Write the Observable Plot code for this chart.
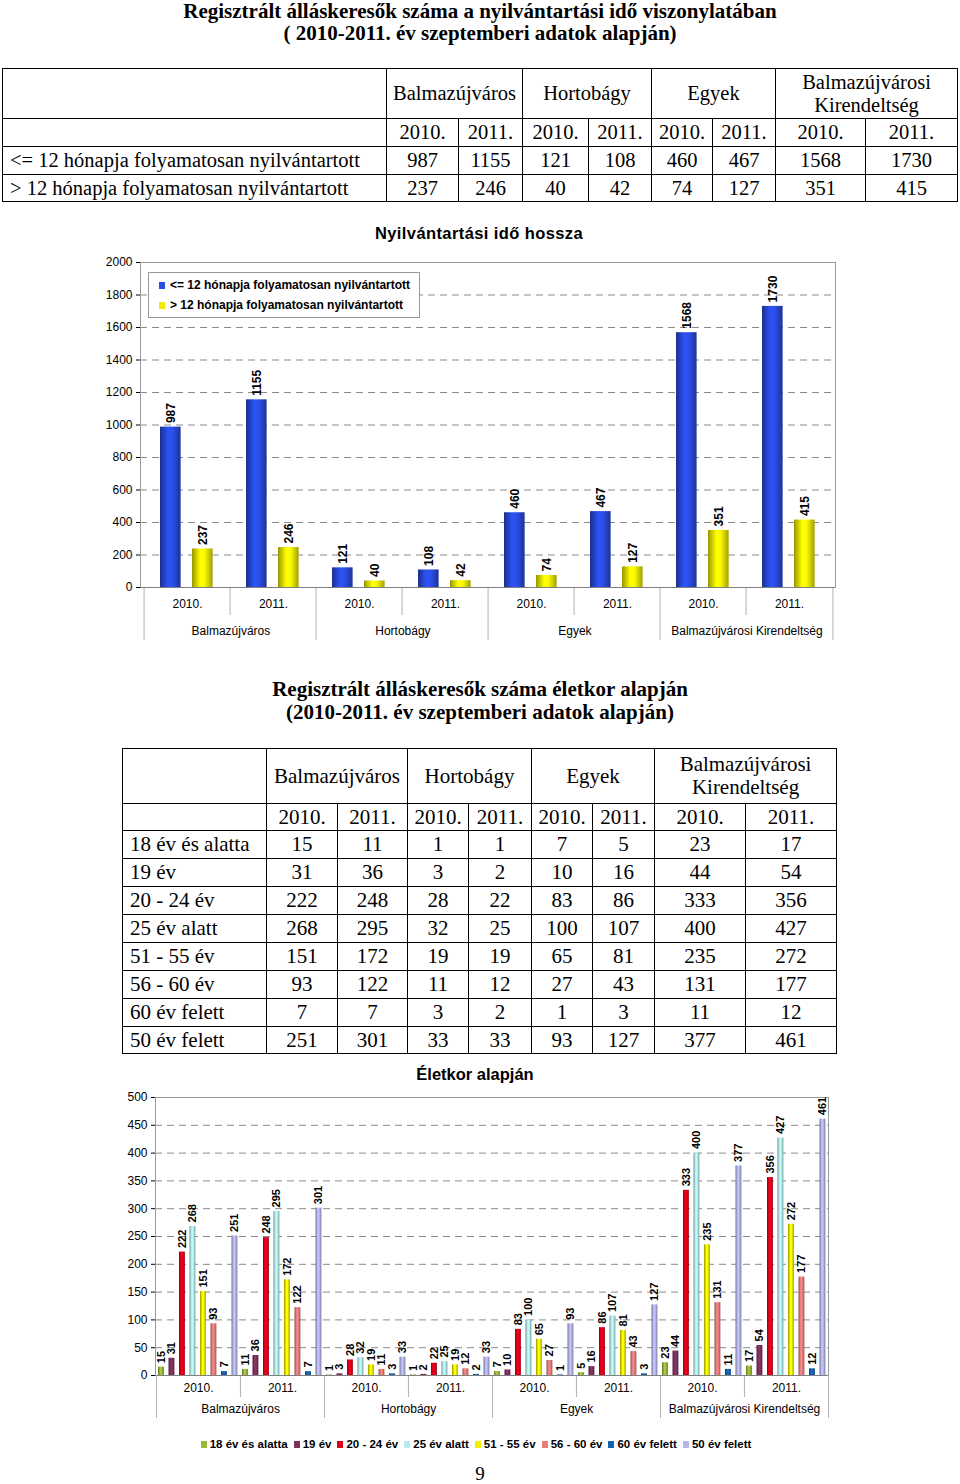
<!DOCTYPE html>
<html><head><meta charset="utf-8">
<script src="https://cdn.jsdelivr.net/npm/d3@7"></script>
<script src="https://cdn.jsdelivr.net/npm/@observablehq/plot@0.6"></script>
<style>
body{margin:0;background:#fff;}
#page{position:relative;width:960px;height:1484px;overflow:hidden;font-family:"Liberation Serif","Times New Roman",serif;color:#000;}
.title{position:absolute;left:0;width:960px;text-align:center;font-weight:bold;font-size:21px;line-height:23px;}
table.dt{position:absolute;border-collapse:collapse;table-layout:fixed;font-family:"Liberation Serif","Times New Roman",serif;font-size:20.5px;}
table.dt td{border:1.5px solid #000;text-align:center;padding:0;line-height:23px;overflow:hidden;white-space:nowrap;}
table.dt td.lab{text-align:left;padding-left:7px;}
.ctitle{position:absolute;text-align:center;font-family:"Liberation Sans",Arial,sans-serif;font-weight:bold;font-size:16.5px;}
.chart{position:absolute;left:0;}
.leg1{position:absolute;left:148px;top:272px;width:270px;height:44px;border:1px solid #999;background:#fff;font-family:"Liberation Sans",Arial,sans-serif;font-weight:bold;font-size:12px;}
.leg1 div{position:absolute;left:10px;white-space:nowrap;}
.mk{display:inline-block;width:6px;height:7px;margin-right:5px;vertical-align:0px;}
.leg2{position:absolute;left:-4px;width:960px;top:1438px;text-align:center;font-family:"Liberation Sans",Arial,sans-serif;font-weight:bold;font-size:11.5px;white-space:nowrap;}
.leg2 span.it{margin:0 3px;}
.pnum{position:absolute;left:0;width:960px;top:1463px;text-align:center;font-size:19px;}
</style></head>
<body>
<svg width="0" height="0" style="position:absolute"><defs id="defs"></defs></svg>
<div id="page">
  <div class="title" style="top:0px;line-height:22px">Regisztrált álláskeresők száma a nyilvántartási idő viszonylatában<br>( 2010-2011. év szeptemberi adatok alapján)</div>
  <div id="t1"></div>
  <div class="ctitle" style="top:224px;left:0;width:958px;letter-spacing:0.4px">Nyilvántartási idő hossza</div>
  <div class="chart" id="c1" style="top:250px"></div>
  <div class="leg1" id="leg1"></div>
  <div class="title" style="top:678px">Regisztrált álláskeresők száma életkor alapján<br>(2010-2011. év szeptemberi adatok alapján)</div>
  <div id="t2"></div>
  <div class="ctitle" style="top:1065px;left:0;width:950px">Életkor alapján</div>
  <div class="chart" id="c2" style="top:1085px"></div>
  <div class="leg2" id="leg2"></div>
  <div class="pnum">9</div>
</div>
<script>
// ---------- DATA ----------
const cities = ["Balmazújváros", "Hortobágy", "Egyek", "Balmazújvárosi Kirendeltség"];
const cityHeader = ["Balmazújváros", "Hortobágy", "Egyek", "Balmazújvárosi<br>Kirendeltség"];
const years = ["2010.", "2011."];

// chart 1 (order: city x year)
const durSeries = ["<= 12 hónapja folyamatosan nyilvántartott", ">  12 hónapja folyamatosan nyilvántartott"];
const durShort = [987, 1155, 121, 108, 460, 467, 1568, 1730];
const durLong = [237, 246, 40, 42, 74, 127, 351, 415];
const durColors = ["#2a4ce0", "#eeee00"];

// chart 2
const ageSeries = ["18 év és alatta", "19 év", "20 - 24 év", "25 év alatt", "51 - 55 év", "56 - 60 év", "60 év felett", "50 év felett"];
const age18 = [15, 11, 1, 1, 7, 5, 23, 17];
const age19 = [31, 36, 3, 2, 10, 16, 44, 54];
const age2024 = [222, 248, 28, 22, 83, 86, 333, 356];
const age25 = [268, 295, 32, 25, 100, 107, 400, 427];
const age5155 = [151, 172, 19, 19, 65, 81, 235, 272];
const age5660 = [93, 122, 11, 12, 27, 43, 131, 177];
const age60 = [7, 7, 3, 2, 1, 3, 11, 12];
const age50 = [251, 301, 33, 33, 93, 127, 377, 461];
const ageValues = [age18, age19, age2024, age25, age5155, age5660, age60, age50];
const ageColors = ["#9ab83a", "#80305e", "#e0001a", "#b6ecec", "#f0f000", "#e87c7c", "#1462b0", "#b6b6ea"];

const yTicks1 = [0, 200, 400, 600, 800, 1000, 1200, 1400, 1600, 1800, 2000];
const yTicks2 = [0, 50, 100, 150, 200, 250, 300, 350, 400, 450, 500];

// ---------- gradients ----------
const defs = d3.select("#defs");
function grad(id, c) {
  const base = d3.color(c);
  const g = defs.append("linearGradient").attr("id", id).attr("x1", 0).attr("x2", 1).attr("y1", 0).attr("y2", 0);
  g.append("stop").attr("offset", "0%").attr("stop-color", base.darker(1.3).formatHex());
  g.append("stop").attr("offset", "40%").attr("stop-color", base.brighter(0.25).formatHex());
  g.append("stop").attr("offset", "60%").attr("stop-color", base.brighter(0.15).formatHex());
  g.append("stop").attr("offset", "100%").attr("stop-color", base.darker(1.1).formatHex());
  return `url(#${id})`;
}
const durFills = durColors.map((c, i) => grad("gd" + i, c));
const ageFills = ageColors.map((c, i) => grad("ga" + i, c));

// ---------- tables ----------
function buildTable(el, left, top, widths, heights, rowLabels, rowsData, fs) {
  let h = `<table class="dt" style="left:${left}px;top:${top}px;width:${d3.sum(widths)}px;font-size:${fs}px"><colgroup>`;
  widths.forEach(w => h += `<col style="width:${w}px">`);
  h += `</colgroup><tr style="height:${heights[0]}px"><td></td>`;
  cityHeader.forEach(c => h += `<td colspan="2">${c}</td>`);
  h += `</tr><tr style="height:${heights[1]}px"><td></td>`;
  cities.forEach(() => years.forEach(y => h += `<td>${y}</td>`));
  h += `</tr>`;
  rowLabels.forEach((lab, r) => {
    h += `<tr style="height:${heights[2 + r]}px"><td class="lab">${lab.replace(/</g, "&lt;").replace(/>/g, "&gt;")}</td>`;
    rowsData[r].forEach(v => h += `<td>${v}</td>`);
    h += `</tr>`;
  });
  h += `</table>`;
  document.getElementById(el).innerHTML = h;
}
buildTable("t1", 2, 68, [384, 72, 64, 66, 63, 61, 63, 90, 92], [50, 28, 28, 27],
  ["<= 12 hónapja folyamatosan nyilvántartott", ">  12 hónapja folyamatosan nyilvántartott"], [durShort, durLong], 20.5);
buildTable("t2", 122, 748, [144, 71, 70, 61, 63, 61, 62, 91, 91], [55, 27, 28, 28, 28, 28, 28, 28, 28, 27],
  ageSeries, ageValues, 21);

// ---------- chart builder ----------
const keys = [];
cities.forEach(c => years.forEach(y => keys.push(c + "|" + y)));

function groupedChart({values, fills, left, right, top, plotH, bottom, yMax, ticks, barOff, barW, fontSize, sepCity, sepYear, dyYear, dyCity}) {
  const W = (960 - left - right) / keys.length;
  const marks = [
    Plot.ruleY(ticks.slice(1, -1), {stroke: "#8a8a8a", strokeDasharray: "7,5", strokeWidth: 1}),
    Plot.frame({stroke: "#9a9a9a"})
  ];
  const rows = keys.map((k, i) => ({k, city: k.split("|")[0], year: k.split("|")[1], i}));
  values.forEach((vals, s) => {
    const data = rows.map(r => ({...r, v: vals[r.i]}));
    const off = barOff[s];
    marks.push(Plot.barY(data, {x: "k", y: "v", fill: fills[s], insetLeft: off, insetRight: W - off - barW}));
    marks.push(Plot.text(data, {x: "k", y: "v", text: d => String(d.v), rotate: -90, textAnchor: "start",
      dx: off + barW / 2 - W / 2, dy: -4, fontWeight: "bold", fontSize, fill: "#000"}));
  });
  const y2010 = rows.filter(r => r.year === years[0]);
  const y2011 = rows.filter(r => r.year === years[1]);
  marks.push(Plot.ruleX(y2010, {x: "k", dx: -W / 2, y1: 0, y2: 0, insetBottom: -sepCity, stroke: "#b0b0b0"}));
  marks.push(Plot.ruleX(rows.slice(-1), {x: "k", dx: W / 2, y1: 0, y2: 0, insetBottom: -sepCity, stroke: "#b0b0b0"}));
  marks.push(Plot.ruleX(y2011, {x: "k", dx: -W / 2, y1: 0, y2: 0, insetBottom: -sepYear, stroke: "#b0b0b0"}));
  marks.push(Plot.ruleY([0], {stroke: "#808080"}));
  marks.push(Plot.text(rows, {x: "k", frameAnchor: "bottom", dy: dyYear, text: "year", fontSize: 12, fill: "#000"}));
  marks.push(Plot.text(y2010, {x: "k", frameAnchor: "bottom", dx: W / 2, dy: dyCity, text: "city", fontSize: 12, fill: "#000"}));
  return Plot.plot({
    width: 960, height: top + plotH + bottom,
    marginLeft: left, marginRight: right, marginTop: top, marginBottom: bottom,
    x: {domain: keys, padding: 0, axis: null},
    y: {domain: [0, yMax], ticks, tickSize: 4, tickPadding: 4, label: null, tickFormat: d => String(d)},
    style: {fontFamily: "'Liberation Sans', Arial, sans-serif", fontSize: "12px", color: "#000", background: "transparent", overflow: "visible"},
    marks
  });
}

document.getElementById("c1").appendChild(groupedChart({
  values: [durShort, durLong], fills: durFills, left: 140, right: 125, top: 12, plotH: 325, bottom: 63,
  yMax: 2000, ticks: yTicks1, barOff: [16, 48], barW: 21.5, fontSize: 12,
  sepCity: 53, sepYear: 28, dyYear: 20, dyCity: 47
}));

document.getElementById("c2").appendChild(groupedChart({
  values: ageValues, fills: ageFills, left: 155, right: 132, top: 12, plotH: 278, bottom: 50,
  yMax: 500, ticks: yTicks2, barOff: d3.range(8).map(i => 2 + 10.5 * i), barW: 6, fontSize: 11,
  sepCity: 43, sepYear: 22, dyYear: 16, dyCity: 37
}));

// ---------- legends ----------
const l1 = document.getElementById("leg1");
durSeries.forEach((s, i) => {
  const d = document.createElement("div");
  d.style.top = (5 + i * 20) + "px";
  d.innerHTML = `<span class="mk" style="background:${durColors[i]}"></span>`;
  d.appendChild(document.createTextNode(s));
  l1.appendChild(d);
});
const l2 = document.getElementById("leg2");
ageSeries.forEach((s, i) => {
  const sp = document.createElement("span");
  sp.className = "it";
  sp.innerHTML = `<span class="mk" style="margin-right:3px;background:${ageColors[i]}"></span>`;
  sp.appendChild(document.createTextNode(s));
  l2.appendChild(sp);
});
</script>
</body></html>
